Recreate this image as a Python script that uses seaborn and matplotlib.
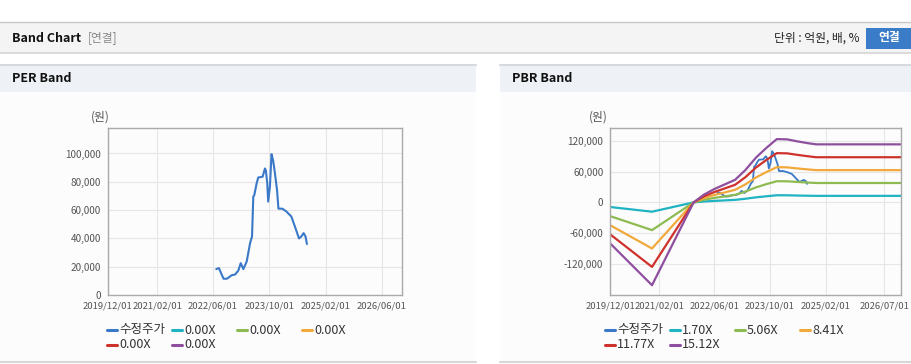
import pandas as pd
import seaborn as sns
import matplotlib.pyplot as plt
import matplotlib.ticker as mticker
from matplotlib.patches import Rectangle
from matplotlib.lines import Line2D

# adjusted close price (수정주가)
price_dates = ["2022-06-29", "2022-07-22", "2022-08-31", "2022-09-29", "2022-11-11", "2022-12-10",
               "2023-01-07", "2023-01-27", "2023-02-19", "2023-03-20", "2023-04-18", "2023-05-05",
               "2023-05-16", "2023-05-25", "2023-06-14", "2023-06-28", "2023-08-05", "2023-08-25",
               "2023-09-02", "2023-09-14", "2023-09-22", "2023-10-07", "2023-10-21", "2023-11-04",
               "2023-11-18", "2023-12-08", "2023-12-20", "2024-01-23", "2024-02-27", "2024-04-10",
               "2024-05-09", "2024-06-15", "2024-07-05", "2024-07-25", "2024-08-11", "2024-08-23"]
price = [18300, 19000, 11500, 11500, 14000, 14500, 17400, 22500, 18300, 23700, 36600, 41300,
         69500, 70700, 78900, 83000, 83600, 89400, 88000, 79000, 66000, 76500, 99500, 95000,
         87000, 74000, 61000, 61000, 59000, 55400, 48800, 40000, 41300, 43700, 41300, 36000]

# PBR band lines
band_dates = ["2019-12-01", "2020-12-01", "2021-12-01", "2022-03-01", "2022-06-01", "2022-09-01",
              "2022-12-01", "2023-03-01", "2023-06-01", "2023-09-01", "2023-12-01", "2024-03-01",
              "2024-06-01", "2024-09-01", "2024-11-10", "2026-12-01"]
pbr_170 = [-9000, -18100, 0, 1700, 2900, 3900, 4900, 7100, 9800, 11900, 13800, 13800, 13300, 12900, 12700, 12700]
pbr_506 = [-26800, -53900, 0, 5000, 8700, 11700, 14700, 21100, 29100, 35500, 41100, 41000, 39700, 38500, 37700, 37700]
pbr_841 = [-44500, -89600, 0, 8300, 14500, 19400, 24500, 35100, 48400, 59000, 68400, 68100, 65900, 64000, 62700, 62700]
pbr_1177 = [-62300, -125400, 0, 11700, 20200, 27200, 34300, 49100, 67700, 82500, 95700, 95300, 92300, 89600, 87800, 87800]
pbr_1512 = [-80000, -161000, 0, 15000, 26000, 35000, 44000, 63000, 87000, 106000, 123000, 122500, 118500, 115000, 112800, 112800]

per_labels = ["수정주가", "0.00X", "0.00X", "0.00X", "0.00X", "0.00X"]
pbr_labels = ["수정주가", "1.70X", "5.06X", "8.41X", "11.77X", "15.12X"]
colors = ["#3a78c8", "#1fb3c3", "#8dbb52", "#f2a93b", "#cf322d", "#8f4f9f"]

per_ticks = ["2019-12-01", "2021-02-01", "2022-06-01", "2023-10-01", "2025-02-01", "2026-06-01"]
pbr_ticks = ["2019-12-01", "2021-02-01", "2022-06-01", "2023-10-01", "2025-02-01", "2026-07-01"]

sns.set_style("white")
plt.rcParams['font.family'] = ['Noto Sans CJK KR', 'DejaVu Sans']

W, H = 912, 364
fig = plt.figure(figsize=(W / 100, H / 100), dpi=100)


def box(x, y, w, h, fc):
    fig.add_artist(Rectangle((x / W, 1 - (y + h) / H), w / W, h / H, transform=fig.transFigure,
                             facecolor=fc, edgecolor="none", zorder=-10))


def hline(x0, x1, y, color, lw=1, z=-5):
    fig.add_artist(Line2D([x0 / W, x1 / W], [1 - y / H, 1 - y / H], transform=fig.transFigure,
                          color=color, linewidth=lw, zorder=z))


def txt(x, y, s, **kw):
    fig.text(x / W, 1 - y / H, s, va="center", **kw)


# page header
box(0, 22, 912, 30, "#f4f4f4")
hline(0, 912, 22, "#c8c8c8")
hline(0, 912, 52.5, "#d4d4d4", 1.2)
txt(12, 38, "Band Chart", fontsize=9, fontweight="bold", color="#111111")
txt(88, 38, "[연결]", fontsize=8.5, color="#888888")
txt(860, 38, "단위 : 억원, 배, %", fontsize=8.5, color="#222222", ha="right")
box(866, 28, 46, 21, "#3b7cc8")
txt(889, 37.5, "연결", fontsize=8.5, fontweight="bold", color="white", ha="center")

# panels
for px, pw, title in [(0, 476, "PER Band"), (500, 412, "PBR Band")]:
    box(px, 92, pw, 270, "#fcfcfc")
    box(px, 64, pw, 28, "#eef2f6")
    hline(px, px + pw, 64.5, "#d6d9dd", 1.5)
    hline(px, px + pw, 362, "#d6d6d6", 1.5)
    txt(px + 12, 79, title, fontsize=9, fontweight="bold", color="#111111")


def style_axes(ax, ticks, ylim, yticks):
    ax.set_facecolor("#fcfcfc")
    ax.set_xlim(pd.Timestamp("2019-12-01"), pd.Timestamp("2026-11-25"))
    ax.set_ylim(*ylim)
    ax.set_xticks(pd.to_datetime(ticks))
    ax.set_xticklabels([t.replace("-", "/") for t in ticks])
    ax.set_yticks(yticks)
    ax.yaxis.set_major_formatter(mticker.FuncFormatter(lambda v, p: f"{int(v):,}"))
    ax.grid(True, color="#e6e6e6", linewidth=0.8)
    ax.set_axisbelow(True)
    for s in ax.spines.values():
        s.set_color("#aaaaaa")
        s.set_linewidth(1)
    ax.tick_params(axis="both", length=3, width=0.8, color="#aaaaaa", labelsize=7.2,
                   labelcolor="#555555", pad=2)
    ax.tick_params(axis="x", labelsize=6.8)
    ax.set_xlabel("")
    ax.set_ylabel("")


price_df = pd.DataFrame({"date": pd.to_datetime(price_dates), "value": price})

# PER band (bands all 0.00X, only price visible)
ax1 = fig.add_axes([107.7 / W, 1 - 295 / H, 294.3 / W, 167 / H])
sns.lineplot(data=price_df, x="date", y="value", ax=ax1, color=colors[0], linewidth=1.5)
style_axes(ax1, per_ticks, (0, 118000), range(0, 100001, 20000))

# PBR band
ax2 = fig.add_axes([610.3 / W, 1 - 295 / H, 290.7 / W, 166.7 / H])
bdates = pd.to_datetime(band_dates)
for vals, c in zip([pbr_170, pbr_506, pbr_841, pbr_1177, pbr_1512], colors[1:]):
    sns.lineplot(x=bdates, y=vals, ax=ax2, color=c, linewidth=1.6)
sns.lineplot(data=price_df, x="date", y="value", ax=ax2, color=colors[0], linewidth=1.3, zorder=1.5)
style_axes(ax2, pbr_ticks, (-180000, 144000), [-120000, -60000, 0, 60000, 120000])

# unit labels and legends
for x0, labels in [(107, per_labels), (605, pbr_labels)]:
    txt(x0 - 16, 117, "(원)", fontsize=8.5, color="#555555")
    for i, (lab, c) in enumerate(zip(labels, colors)):
        lx = x0 + 65 * (i % 4)
        ly = 330 + 15 * (i // 4)
        hline(lx, lx + 10, ly, c, 2.2, z=5)
        txt(lx + 12, ly, lab, fontsize=9, color="#333333")

fig.savefig("out.png", dpi=100)
